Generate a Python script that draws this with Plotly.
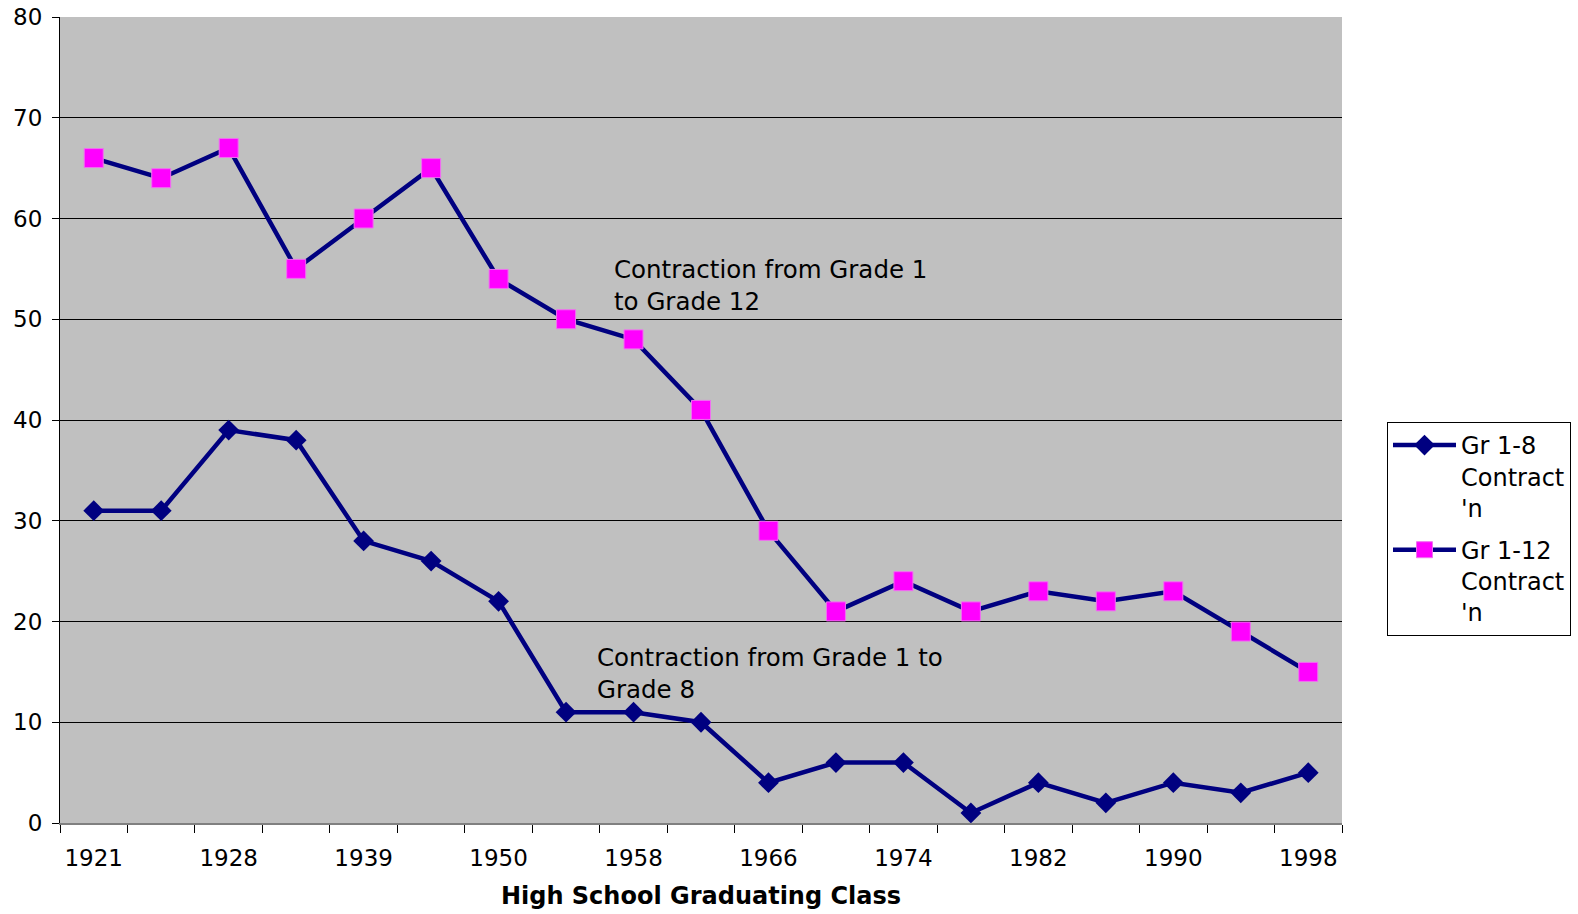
import plotly.graph_objects as go

years = ["1921", "1925", "1928", "1932", "1939", "1944", "1950", "1954", "1958", "1962",
         "1966", "1970", "1974", "1978", "1982", "1986", "1990", "1994", "1998"]
tick_labels = ["1921", "", "1928", "", "1939", "", "1950", "", "1958", "", "1966", "",
               "1974", "", "1982", "", "1990", "", "1998"]
gr_1_8 = [31, 31, 39, 38, 28, 26, 22, 11, 11, 10, 4, 6, 6, 1, 4, 2, 4, 3, 5]
gr_1_12 = [66, 64, 67, 55, 60, 65, 54, 50, 48, 41, 29, 21, 24, 21, 23, 22, 23, 19, 15]
y_ticks = [0, 10, 20, 30, 40, 50, 60, 70, 80]

NAVY = "#000080"
MAGENTA = "#FF00FF"
FONT = "DejaVu Sans"

fig = go.Figure()
fig.add_trace(go.Scatter(
    x=years, y=gr_1_8, mode="lines+markers", name="Gr 1-8<br>Contract<br>'n",
    legendgroup="a",
    line=dict(color=NAVY, width=4.5),
    marker=dict(symbol="diamond", size=16, color=NAVY, line=dict(width=0)),
))
fig.add_trace(go.Scatter(
    x=years, y=gr_1_12, mode="lines+markers", name="Gr 1-12<br>Contract<br>'n",
    legendgroup="b",
    line=dict(color=NAVY, width=4.5),
    marker=dict(symbol="square", size=19, color=MAGENTA, line=dict(width=1, color="#F070F0")),
))

fig.update_layout(
    width=1578, height=914,
    margin=dict(l=60, r=236, t=17, b=91, autoexpand=False),
    paper_bgcolor="white",
    plot_bgcolor="#C0C0C0",
    font=dict(family=FONT, size=23, color="black"),
    legend=dict(
        x=1.0351, y=0.4975, xanchor="left", yanchor="top",
        bgcolor="white", bordercolor="black", borderwidth=1,
        font=dict(family=FONT, size=24, color="black"),
        valign="top", tracegroupgap=8, itemwidth=63,
    ),
    annotations=[
        dict(text="Contraction from Grade 1<br>to Grade 12", xref="paper", yref="paper",
             x=0.4306, y=0.7072, xanchor="left", yanchor="top", align="left",
             showarrow=False, font=dict(family=FONT, size=24.5, color="black")),
        dict(text="Contraction from Grade 1 to<br>Grade 8", xref="paper", yref="paper",
             x=0.4173, y=0.2258, xanchor="left", yanchor="top", align="left",
             showarrow=False, font=dict(family=FONT, size=24.5, color="black")),
    ],
)

fig.update_xaxes(
    type="category", categoryorder="array", categoryarray=years,
    tickmode="array", tickvals=years, ticktext=tick_labels, tickangle=0,
    tickson="boundaries", ticks="outside", ticklen=8, tickcolor="black", tickwidth=1,
    ticklabelstandoff=13,
    showgrid=False, showline=True, linecolor="#808080", linewidth=2,
    range=[-0.5, len(years) - 0.5], automargin=False,
    title=dict(text="<b>High School Graduating Class</b>", standoff=18,
               font=dict(family=FONT, size=24, color="black")),
    zeroline=False,
)
fig.update_yaxes(
    range=[0, 80], tickmode="array", tickvals=y_ticks, automargin=False,
    ticks="outside", ticklen=7, tickcolor="black", tickwidth=1,
    ticklabeloverflow="allow", ticklabelstandoff=5,
    showgrid=True, gridcolor="black", gridwidth=1,
    showline=True, linecolor="black", linewidth=1,
    zeroline=False,
)

fig.write_html("out.html", config={"displayModeBar": False},
               post_script="document.body.style.margin='0px';")
